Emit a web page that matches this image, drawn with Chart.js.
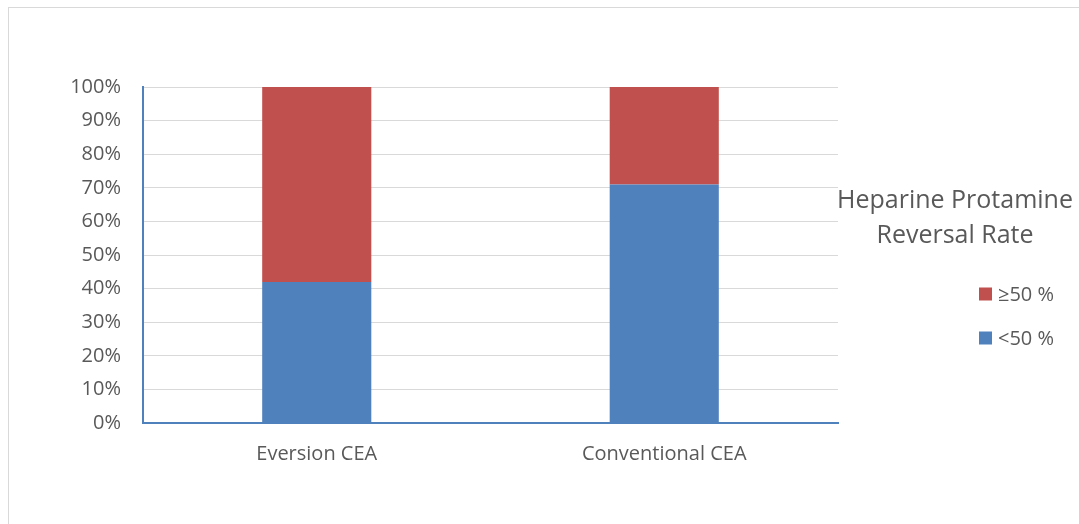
<!DOCTYPE html>
<html>
<head>
<meta charset="utf-8">
<script src="https://cdn.jsdelivr.net/npm/chart.js@4"></script>
<style>
  body { margin: 0; background: #fff; }
  #wrap { position: relative; width: 1079px; height: 524px; overflow: hidden; }
  #frame { position: absolute; left: 8px; top: 7px; width: 1200px; height: 700px; border: 1px solid #d9d9d9; }
  #chart { position: absolute; left: 0; top: 0; }
</style>
</head>
<body>
<div id="wrap">
  <div id="frame"></div>
  <canvas id="chart" width="1079" height="524"></canvas>
</div>
<script>
const categories = ["Eversion CEA", "Conventional CEA"];
const below50 = [42, 71];
const atLeast50 = [58, 29];
const yTicks = [0, 10, 20, 30, 40, 50, 60, 70, 80, 90, 100];
const legendTitle = ["Heparine Protamine", "Reversal Rate"];

const FONT = "'Open Sans', sans-serif";
const GREY = "#595959";
const AXIS = "#4f81bd";

// draws the legend to the right of the plot, top item = last dataset
const sideLegend = {
  id: "sideLegend",
  afterDraw(chart) {
    const { ctx, chartArea } = chart;
    const x0 = chartArea.right;
    const y0 = chartArea.top;
    ctx.save();
    ctx.fillStyle = GREY;
    ctx.font = "25px " + FONT;
    ctx.textAlign = "center";
    ctx.textBaseline = "alphabetic";
    legendTitle.forEach((line, i) => {
      ctx.fillText(line, x0 + 117, y0 + 121 + i * 35);
    });
    const sets = chart.data.datasets.slice().reverse();
    ctx.font = "20px " + FONT;
    ctx.textAlign = "left";
    ctx.textBaseline = "middle";
    sets.forEach((ds, i) => {
      const cy = y0 + 207 + i * 44;
      ctx.fillStyle = ds.backgroundColor;
      ctx.fillRect(x0 + 141, cy - 6.5, 13, 13);
      ctx.fillStyle = GREY;
      ctx.fillText(ds.label, x0 + 160, cy + 1);
    });
    ctx.restore();
  }
};

new Chart(document.getElementById("chart"), {
  type: "bar",
  data: {
    labels: categories,
    datasets: [
      { label: "<50 %", data: below50, backgroundColor: "#4f81bd" },
      { label: "≥50 %", data: atLeast50, backgroundColor: "#c0504d" }
    ]
  },
  options: {
    responsive: false,
    animation: false,
    layout: { padding: { left: 0, top: 87, right: 241, bottom: 0 } },
    datasets: { bar: { categoryPercentage: 1, barPercentage: 0.314 } },
    plugins: {
      legend: { display: false },
      tooltip: { enabled: false }
    },
    scales: {
      x: {
        stacked: true,
        grid: { display: false },
        border: { color: AXIS, width: 2 },
        ticks: { color: GREY, font: { family: FONT, size: 20 }, padding: 11 },
        afterFit(s) { s.height = 101; }
      },
      y: {
        stacked: true,
        min: 0,
        max: 100,
        afterBuildTicks(s) { s.ticks = yTicks.map(v => ({ value: v })); },
        grid: { color: "#d9d9d9", lineWidth: 1, drawTicks: false },
        border: { color: AXIS, width: 2 },
        ticks: {
          color: GREY,
          font: { family: FONT, size: 20 },
          padding: 22,
          callback: v => v + "%"
        },
        afterFit(s) { s.width = 143; }
      }
    }
  },
  plugins: [sideLegend]
});
</script>
</body>
</html>
